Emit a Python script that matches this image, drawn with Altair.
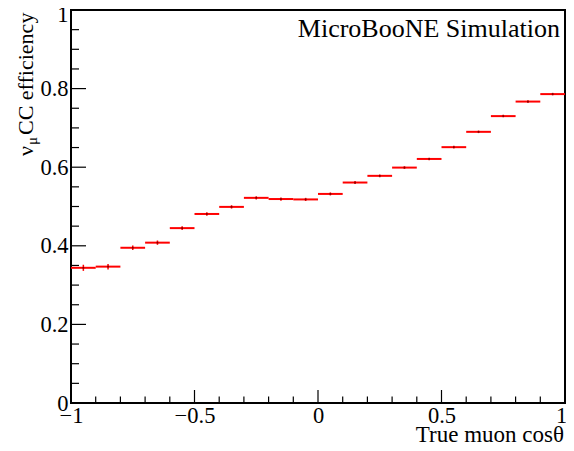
import altair as alt
import pandas as pd

# ---- data ----
bin_lo = [-1.0, -0.9, -0.8, -0.7, -0.6, -0.5, -0.4, -0.3, -0.2, -0.1,
          0.0, 0.1, 0.2, 0.3, 0.4, 0.5, 0.6, 0.7, 0.8, 0.9]
bin_hi = [-0.9, -0.8, -0.7, -0.6, -0.5, -0.4, -0.3, -0.2, -0.1, 0.0,
          0.1, 0.2, 0.3, 0.4, 0.5, 0.6, 0.7, 0.8, 0.9, 1.0]
efficiency = [0.344, 0.347, 0.395, 0.408, 0.445, 0.481, 0.499, 0.522, 0.519, 0.518,
              0.532, 0.561, 0.578, 0.599, 0.621, 0.651, 0.690, 0.730, 0.767, 0.786]
error = [0.0078, 0.0070, 0.0060, 0.0055, 0.0050, 0.0045, 0.0043, 0.0042, 0.0042, 0.0040,
         0.0038, 0.0036, 0.0035, 0.0034, 0.0033, 0.0033, 0.0032, 0.0032, 0.0032, 0.0032]

x_major = [-1.0, -0.5, 0.0, 0.5, 1.0]
x_minor = [-0.9, -0.8, -0.7, -0.6, -0.4, -0.3, -0.2, -0.1,
           0.1, 0.2, 0.3, 0.4, 0.6, 0.7, 0.8, 0.9]
y_major = [0.0, 0.2, 0.4, 0.6, 0.8, 1.0]
y_minor = [0.05, 0.1, 0.15, 0.25, 0.3, 0.35, 0.45, 0.5, 0.55,
           0.65, 0.7, 0.75, 0.85, 0.9, 0.95]

x_title = "True muon cosθ"
y_title_parts = ["ν", "μ", "CC efficiency"]
label_text = "MicroBooNE Simulation"

W, H = 494, 393
FONT = "Liberation Serif"

df = pd.DataFrame({
    "lo": bin_lo, "hi": bin_hi, "eff": efficiency, "err": error,
})
df["c"] = (df["lo"] + df["hi"]) / 2
df["elo"] = df["eff"] - df["err"]
df["ehi"] = df["eff"] + df["err"]

xs = alt.Scale(domain=[-1, 1], nice=False, zero=False)
ys = alt.Scale(domain=[0, 1], nice=False, zero=False)

xaxis = alt.Axis(values=x_major, format="~g", title=None, grid=False, ticks=False,
                 tickSize=0, domain=False, labelFont=FONT, labelFontSize=22.5,
                 labelColor="black", labelPadding=1, labelFlush=False,
                 labelOffset={"condition": {"test": "datum.value == 1", "value": -4}, "value": 0})
yaxis = alt.Axis(values=y_major, format="~g", title=None, grid=False, ticks=False,
                 tickSize=0, domain=False, labelFont=FONT, labelFontSize=22.5,
                 labelColor="black", labelPadding=3, labelFlush=False,
                 labelOffset={"condition": {"test": "datum.value == 1", "value": 4}, "value": 0})

base = alt.Chart(df)

bars = base.mark_rule(color="#ff0000", strokeWidth=2).encode(
    x=alt.X("lo:Q", scale=xs, axis=xaxis),
    x2="hi:Q",
    y=alt.Y("eff:Q", scale=ys, axis=yaxis),
)
errs = base.mark_rule(color="#ff0000", strokeWidth=1.5).encode(
    x=alt.X("c:Q", scale=xs, axis=xaxis),
    y=alt.Y("elo:Q", scale=ys, axis=yaxis),
    y2="ehi:Q",
)
dots = base.mark_square(color="#600000", size=3, opacity=0.8).encode(
    x=alt.X("c:Q", scale=xs, axis=xaxis),
    y=alt.Y("eff:Q", scale=ys, axis=yaxis),
)

xmaj = alt.Chart(pd.DataFrame({"v": x_major})).mark_rule(color="black", strokeWidth=1.2).encode(
    x=alt.X("v:Q", scale=xs, axis=xaxis), y=alt.value(H), y2=alt.value(H - 13))
xmin = alt.Chart(pd.DataFrame({"v": x_minor})).mark_rule(color="black", strokeWidth=1.2).encode(
    x=alt.X("v:Q", scale=xs, axis=xaxis), y=alt.value(H), y2=alt.value(H - 6.5))
ymaj = alt.Chart(pd.DataFrame({"v": y_major})).mark_rule(color="black", strokeWidth=1.2).encode(
    y=alt.Y("v:Q", scale=ys, axis=yaxis), x=alt.value(0), x2=alt.value(15))
ymin = alt.Chart(pd.DataFrame({"v": y_minor})).mark_rule(color="black", strokeWidth=1.2).encode(
    y=alt.Y("v:Q", scale=ys, axis=yaxis), x=alt.value(0), x2=alt.value(8))

label = alt.Chart(pd.DataFrame({"t": [label_text]})).mark_text(
    font=FONT, fontSize=26, align="right", baseline="alphabetic", color="black"
).encode(text="t:N", x=alt.value(W - 5), y=alt.value(27))

xt = alt.Chart(pd.DataFrame({"t": [x_title]})).mark_text(
    font=FONT, fontSize=23, align="right", baseline="alphabetic", color="black"
).encode(text="t:N", x=alt.value(W - 1), y=alt.value(H + 39))

yt_nu = alt.Chart(pd.DataFrame({"t": [y_title_parts[0]]})).mark_text(
    font=FONT, fontSize=22, align="left", baseline="alphabetic", angle=270, color="black"
).encode(text="t:N", x=alt.value(-38), y=alt.value(146))
yt_mu = alt.Chart(pd.DataFrame({"t": [y_title_parts[1]]})).mark_text(
    font=FONT, fontSize=15, align="left", baseline="alphabetic", angle=270, color="black"
).encode(text="t:N", x=alt.value(-34), y=alt.value(135))
yt_rest = alt.Chart(pd.DataFrame({"t": [y_title_parts[2]]})).mark_text(
    font=FONT, fontSize=22, align="left", baseline="alphabetic", angle=270, color="black"
).encode(text="t:N", x=alt.value(-38), y=alt.value(125))

chart = alt.layer(
    bars, errs, dots, xmaj, xmin, ymaj, ymin, label, xt, yt_nu, yt_mu, yt_rest
).properties(
    width=W, height=H,
    autosize=alt.AutoSizeParams(type="none"),
    padding={"left": 63, "top": 2, "right": 1, "bottom": 40},
    background="white",
).configure_view(
    stroke="black", strokeWidth=2
)

chart.save("out.html", embed_options={"renderer": "svg", "actions": False})
